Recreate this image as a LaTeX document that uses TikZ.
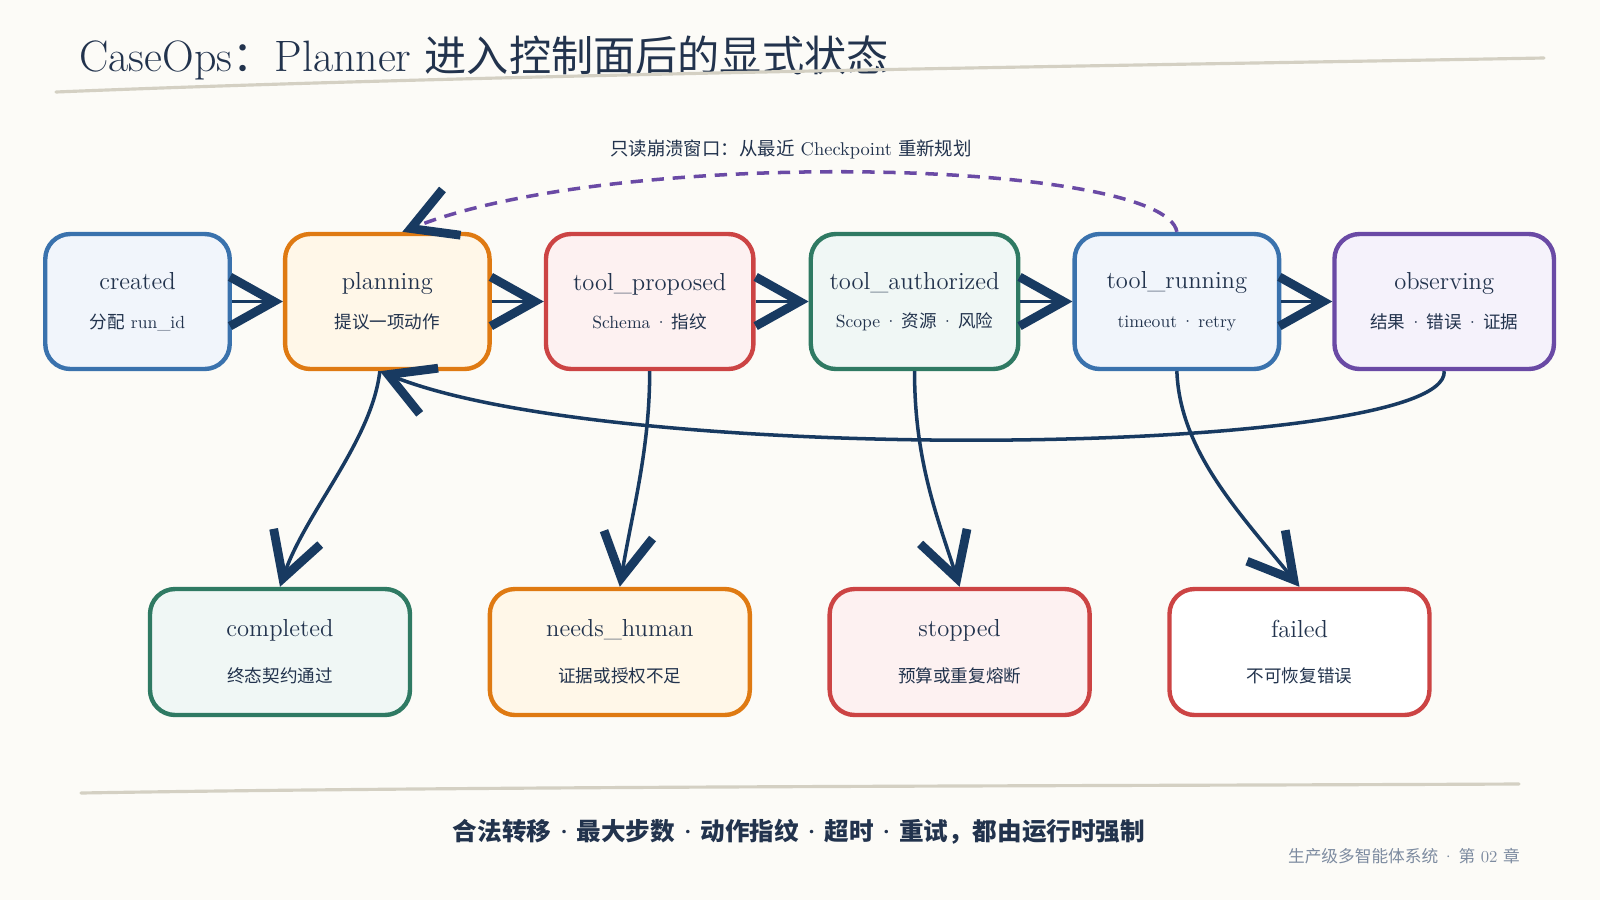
\documentclass[tikz,border=0pt]{standalone}
\usepackage{fontspec}
\newfontfamily\cjk{Noto Sans CJK SC}
\usepackage{tikz}
\usetikzlibrary{arrows.meta,calc,positioning}
\definecolor{pagebg}{HTML}{FCFBF7}
\definecolor{ink}{HTML}{22334D}
\definecolor{navy}{HTML}{183A61}
\definecolor{rulegrey}{HTML}{D4D0C3}
\definecolor{footgrey}{HTML}{7D8BA0}
\definecolor{cblue}{HTML}{3A72AD}
\definecolor{cbluebg}{HTML}{F1F5FB}
\definecolor{corange}{HTML}{DF7A12}
\definecolor{corangebg}{HTML}{FFF7E8}
\definecolor{cred}{HTML}{CC4444}
\definecolor{credbg}{HTML}{FDF1F1}
\definecolor{cgreen}{HTML}{2F7A63}
\definecolor{cgreenbg}{HTML}{F0F7F5}
\definecolor{cpurple}{HTML}{6A4AA5}
\definecolor{cpurplebg}{HTML}{F5F2FB}
\newcommand{\subline}[1]{{\fontsize{10}{12}\selectfont #1}}
\newcommand{\dotsep}{\hspace{0.22em}·\hspace{0.22em}}
\newcommand{\tightdot}{\hspace{0.08em}·\hspace{0.08em}}
\tikzset{
  statebox/.style={draw, rounded corners=0.5cm, line width=2.5pt, minimum height=2.7cm, inner sep=0pt, align=center, text=ink, font=\fontsize{14}{16}\selectfont},
  termbox/.style={statebox, minimum width=5.2cm, minimum height=2.52cm},
  arrow/.style={draw=navy, line width=2pt, -{Straight Barb[length=25pt, width=28pt, line width=5pt]}},
  dashedarrow/.style={draw=cpurple, line width=2pt, dash pattern=on 7pt off 5pt, -{Straight Barb[length=25pt, width=28pt, line width=5pt, color=navy]}},
  sketchrule/.style={draw=rulegrey, line width=1.8pt, line cap=round},
}
\begin{document}
\begin{tikzpicture}[x=0.02cm, y=-0.02cm]
\fill[pagebg] (0,0) rectangle (1600,900);

\node[anchor=west, inner sep=0pt, text=ink, font=\fontsize{25}{30}\selectfont] (title) at (79,58) {CaseOps{\cjk\fontsize{24}{30}\selectfont ：}Planner {\cjk\fontsize{24}{30}\selectfont 进入控制面后的显式状态}};
\coordinate (rule1a) at (56,92);
\coordinate (rule1b) at (1544,58);
\draw[sketchrule] (rule1a) .. controls (500,74) and (1100,66) .. (rule1b);

\node[statebox, draw=cblue, fill=cbluebg, minimum width=3.69cm] (created) at (137.5,301.5) {created\\[6pt]\subline{{\cjk 分配} run\_id}};
\node[statebox, draw=corange, fill=corangebg, minimum width=4.09cm, right=1.02cm of created] (planning) {planning\\[6pt]\subline{\cjk 提议一项动作}};
\node[statebox, draw=cred, fill=credbg, minimum width=4.15cm, right=1.04cm of planning] (proposed) {tool\_proposed\\[6pt]\subline{Schema\dotsep{\cjk 指纹}}};
\node[statebox, draw=cgreen, fill=cgreenbg, minimum width=4.15cm, right=1.06cm of proposed] (authorized) {tool\_authorized\\[6pt]\subline{Scope\dotsep{\cjk 资源}\dotsep{\cjk 风险}}};
\node[statebox, draw=cblue, fill=cbluebg, minimum width=4.09cm, right=1.04cm of authorized] (running) {tool\_running\\[6pt]\subline{timeout\dotsep retry}};
\node[statebox, draw=cpurple, fill=cpurplebg, minimum width=4.39cm, right=1.02cm of running] (observing) {observing\\[6pt]\subline{{\cjk 结果}\dotsep{\cjk 错误}\dotsep{\cjk 证据}}};

\node[termbox, draw=cgreen, fill=cgreenbg] (completed) at (280,652) {completed\\[10pt]\subline{\cjk 终态契约通过}};
\node[termbox, draw=corange, fill=corangebg, right=1.51cm of completed] (needshuman) {needs\_human\\[10pt]\subline{\cjk 证据或授权不足}};
\node[termbox, draw=cred, fill=credbg, right=1.51cm of needshuman] (stopped) {stopped\\[10pt]\subline{\cjk 预算或重复熔断}};
\node[termbox, draw=cred, fill=white, right=1.51cm of stopped] (failed) {failed\\[10pt]\subline{\cjk 不可恢复错误}};

\draw[arrow] (created) -- (planning);
\draw[arrow] (planning) -- (proposed);
\draw[arrow] (proposed) -- (authorized);
\draw[arrow] (authorized) -- (running);
\draw[arrow] (running) -- (observing);

\node[text=ink, font=\fontsize{10.5}{12}\selectfont] (replaynote) at (791,149) {{\cjk 只读崩溃窗口：从最近} Checkpoint {\cjk 重新规划}};
\draw[dashedarrow] (running.north) .. controls +(-12,-72) and +(217,-86) .. ([xshift=0.3cm]planning.north);

\draw[arrow] (observing.south) .. controls +(5,85) and +(240,97) .. ([xshift=-0.15cm]planning.south);
\draw[arrow] ([xshift=-0.15cm]planning.south) .. controls +(-8,70) and +(25,-74) .. (completed.north);
\draw[arrow] (proposed.south) .. controls +(0,80) and +(12,-74) .. (needshuman.north);
\draw[arrow] (authorized.south) .. controls +(0,90) and +(-22,-69) .. (stopped.north);
\draw[arrow] (running.south) .. controls +(3,80) and +(-60,-74) .. (failed.north);

\coordinate (rule2a) at (81,793);
\coordinate (rule2b) at (1519,784);
\draw[sketchrule] (rule2a) .. controls (500,786) and (1100,786) .. (rule2b);
\node[text=ink, font=\fontsize{14}{18}\selectfont\bfseries] (motto) at (799,832) {{\cjk 合法转移}\tightdot{\cjk 最大步数}\tightdot{\cjk 动作指纹}\tightdot{\cjk 超时}\tightdot{\cjk 重试，都由运行时强制}};
\node[anchor=east, text=footgrey, font=\fontsize{9.5}{11}\selectfont] (chapter) at (1526,856) {{\cjk 生产级多智能体系统}\dotsep{\cjk 第} 02 {\cjk 章}};
\end{tikzpicture}
\end{document}
